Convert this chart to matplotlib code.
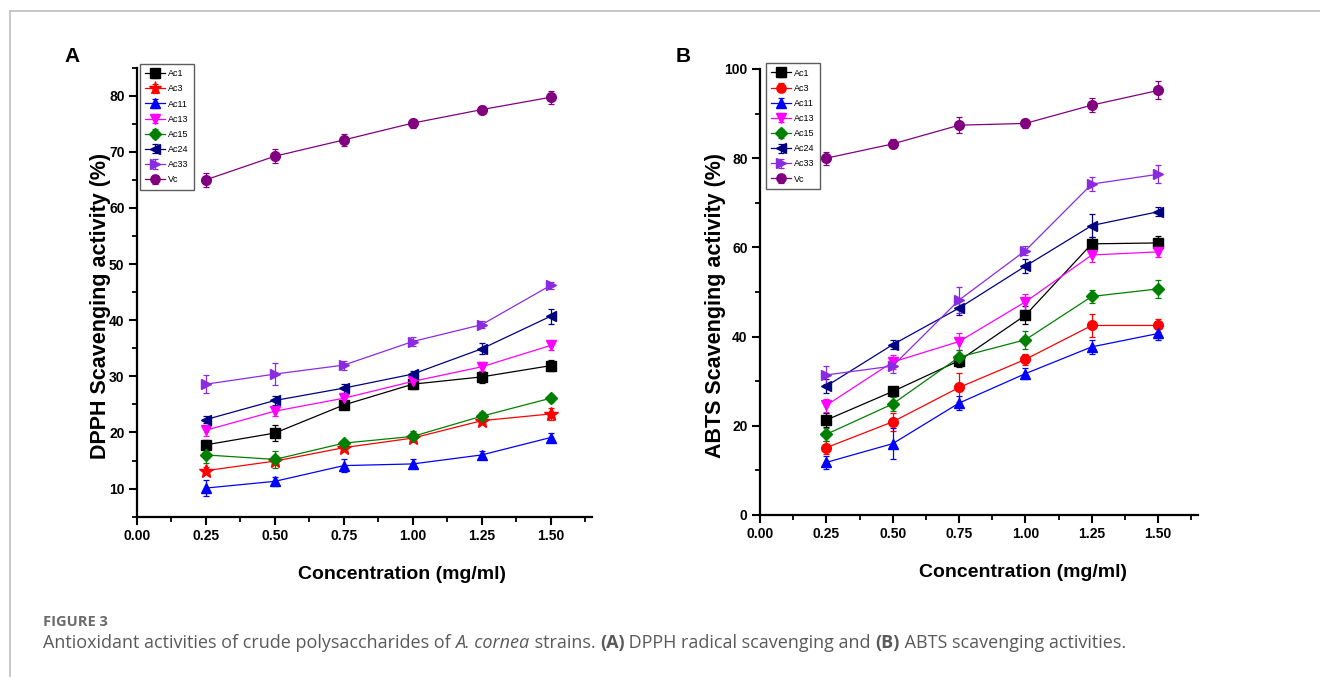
import matplotlib
matplotlib.use("Agg")
import matplotlib.pyplot as plt
from matplotlib.lines import Line2D
from matplotlib.ticker import MultipleLocator, FormatStrFormatter

plt.rcParams['font.family'] = ['Liberation Sans', 'DejaVu Sans']

conc = [0.25, 0.50, 0.75, 1.00, 1.25, 1.50]
strains = ['Ac1', 'Ac3', 'Ac11', 'Ac13', 'Ac15', 'Ac24', 'Ac33', 'Vc']
colors = ['#000000', '#ff0000', '#0000ff', '#ff00ff', '#008000', '#000080', '#8a2be2', '#800080']
markers_a = ['s', '*', '^', 'v', 'D', '<', '>', 'o']
markers_b = ['s', 'o', '^', 'v', 'D', '<', '>', 'o']

# Panel A: DPPH scavenging activity (%)
dpph_ac1 = [17.8, 19.9, 24.9, 28.6, 29.9, 31.9]
dpph_ac3 = [13.2, 14.9, 17.3, 19.0, 22.1, 23.3]
dpph_ac11 = [10.1, 11.3, 14.1, 14.4, 16.0, 19.1]
dpph_ac13 = [20.4, 23.8, 26.1, 29.1, 31.7, 35.5]
dpph_ac15 = [16.0, 15.2, 18.1, 19.3, 22.9, 26.1]
dpph_ac24 = [22.3, 25.7, 27.9, 30.4, 34.9, 40.7]
dpph_ac33 = [28.6, 30.4, 32.0, 36.2, 39.2, 46.2]
dpph_vc = [65.0, 69.2, 72.1, 75.1, 77.5, 79.7]
dpph_err_ac1 = [0.8, 1.5, 0.8, 0.8, 1.0, 1.0]
dpph_err_ac3 = [0.6, 0.6, 0.6, 0.6, 0.6, 1.0]
dpph_err_ac11 = [1.5, 0.8, 1.2, 0.8, 0.7, 0.8]
dpph_err_ac13 = [1.0, 0.9, 0.8, 0.8, 0.8, 0.8]
dpph_err_ac15 = [1.5, 1.5, 0.6, 1.0, 0.8, 0.6]
dpph_err_ac24 = [0.7, 0.8, 0.8, 0.5, 1.0, 1.3]
dpph_err_ac33 = [1.6, 2.0, 0.8, 0.8, 0.6, 0.6]
dpph_err_vc = [1.2, 1.2, 1.0, 0.8, 0.7, 1.2]

# Panel B: ABTS scavenging activity (%)
abts_ac1 = [21.3, 27.7, 34.6, 44.8, 60.8, 61.0]
abts_ac3 = [15.1, 20.9, 28.6, 34.9, 42.5, 42.5]
abts_ac11 = [11.8, 16.0, 25.1, 31.7, 37.7, 40.7]
abts_ac13 = [24.6, 34.3, 38.9, 47.8, 58.3, 59.0]
abts_ac15 = [18.1, 24.9, 35.4, 39.3, 49.0, 50.7]
abts_ac24 = [28.9, 38.2, 46.4, 55.8, 64.9, 68.0]
abts_ac33 = [31.4, 33.4, 48.2, 59.3, 74.2, 76.4]
abts_vc = [80.0, 83.2, 87.4, 87.8, 91.9, 95.2]
abts_err_ac1 = [1.5, 1.0, 1.5, 2.0, 1.5, 1.5]
abts_err_ac3 = [1.5, 2.0, 3.3, 1.2, 2.5, 1.5]
abts_err_ac11 = [1.5, 3.5, 1.5, 1.2, 1.5, 1.5]
abts_err_ac13 = [1.5, 1.5, 1.8, 1.8, 1.5, 1.2]
abts_err_ac15 = [1.5, 1.5, 1.5, 2.0, 1.5, 2.0]
abts_err_ac24 = [1.5, 1.0, 1.5, 1.5, 2.5, 1.0]
abts_err_ac33 = [2.0, 1.5, 3.0, 1.0, 1.5, 2.0]
abts_err_vc = [1.5, 1.0, 1.8, 1.0, 1.5, 2.0]

x_ticks = [0.00, 0.25, 0.50, 0.75, 1.00, 1.25, 1.50]

dpph_vals = [dpph_ac1, dpph_ac3, dpph_ac11, dpph_ac13, dpph_ac15, dpph_ac24, dpph_ac33, dpph_vc]
dpph_errs = [dpph_err_ac1, dpph_err_ac3, dpph_err_ac11, dpph_err_ac13, dpph_err_ac15, dpph_err_ac24, dpph_err_ac33, dpph_err_vc]
abts_vals = [abts_ac1, abts_ac3, abts_ac11, abts_ac13, abts_ac15, abts_ac24, abts_ac33, abts_vc]
abts_errs = [abts_err_ac1, abts_err_ac3, abts_err_ac11, abts_err_ac13, abts_err_ac15, abts_err_ac24, abts_err_ac33, abts_err_vc]

W, H = 1320, 677
fig = plt.figure(figsize=(W / 100, H / 100), dpi=100)

def px_axes(left, right, top, bottom):
    return fig.add_axes([left / W, 1 - bottom / H, (right - left) / W, (bottom - top) / H])

axA = px_axes(137, 592, 67.5, 516.7)
axB = px_axes(760, 1198, 69, 515)

def draw(ax, vals, errs, markers, ylim, ymaj, ymin, ylabel, leg_anchor, xlab_x, ylab_x):
    handles = []
    for name, col, mk, v, e in zip(strains, colors, markers, vals, errs):
        ms = 10 if mk == '*' else 7
        if mk == 'D':
            ms = 6.5
        c = ax.errorbar(conc, v, yerr=e, color=col, marker=mk, markersize=ms,
                        linewidth=0.9, elinewidth=0.9, capsize=2.5, capthick=0.9,
                        markeredgecolor=col, label=name, clip_on=False)
        handles.append(c)
    ax.set_xlim(0, 1.65)
    ax.set_ylim(*ylim)
    ax.set_xticks(x_ticks)
    ax.xaxis.set_major_formatter(FormatStrFormatter('%.2f'))
    ax.xaxis.set_minor_locator(MultipleLocator(0.125))
    ax.yaxis.set_major_locator(MultipleLocator(ymaj))
    ax.yaxis.set_minor_locator(MultipleLocator(ymin))
    for s in ['top', 'right']:
        ax.spines[s].set_visible(False)
    for s in ['left', 'bottom']:
        ax.spines[s].set_linewidth(1.6)
    ax.tick_params(which='major', direction='out', length=6, width=1.5, labelsize=10, pad=3)
    ax.tick_params(which='minor', direction='out', length=3.5, width=1.3)
    for lab in ax.get_xticklabels() + ax.get_yticklabels():
        lab.set_fontweight('bold')
    ax.set_xlabel('Concentration (mg/ml)', fontsize=14, fontweight='bold')
    ax.xaxis.set_label_coords(xlab_x, -0.11)
    ax.set_ylabel(ylabel, fontsize=15.5, fontweight='bold')
    ax.yaxis.set_label_coords(ylab_x, 0.47)
    leg = ax.legend(handles=handles, loc='upper left', bbox_to_anchor=leg_anchor,
                    borderaxespad=0, fontsize=6.5, frameon=True, fancybox=False,
                    edgecolor='#333333', handlelength=2.2, handletextpad=0.3,
                    labelspacing=0.68, borderpad=0.6, markerscale=0.95)
    leg.get_frame().set_linewidth(1.0)
    leg.set_zorder(1)
    return ax

draw(axA, dpph_vals, dpph_errs, markers_a, (5, 85), 10, 5,
     'DPPH Scavenging activity (%)', (0.006, 1.008), 0.582, -0.057)
draw(axB, abts_vals, abts_errs, markers_b, (0, 100), 20, 10,
     'ABTS Scavenging activity (%)', (0.0137, 1.013), 0.60, -0.078)

fig.text(72 / W, 1 - 57 / H, 'A', fontsize=15, fontweight='bold', ha='center', va='center')
fig.text(683 / W, 1 - 57 / H, 'B', fontsize=15, fontweight='bold', ha='center', va='center')

# page frame lines
fig.add_artist(Line2D([9.5 / W, 1], [1 - 11 / H, 1 - 11 / H], transform=fig.transFigure,
                      color='#bdbdbd', lw=1.2))
fig.add_artist(Line2D([9.5 / W, 9.5 / W], [0, 1 - 11 / H], transform=fig.transFigure,
                      color='#bdbdbd', lw=1.2))

# caption
cap_font = ['Open Sans', 'DejaVu Sans']
fig.text(43 / W, 1 - 622 / H, 'FIGURE 3', fontsize=10.5, fontweight='bold',
         color='#6b6b6b', family=cap_font, va='center', ha='left')

pieces = [
    ('Antioxidant activities of crude polysaccharides of ', 'normal', 'normal'),
    ('A. cornea', 'normal', 'italic'),
    (' strains. ', 'normal', 'normal'),
    ('(A)', 'bold', 'normal'),
    (' DPPH radical scavenging and ', 'normal', 'normal'),
    ('(B)', 'bold', 'normal'),
    (' ABTS scavenging activities.', 'normal', 'normal'),
]
renderer = fig.canvas.get_renderer()
xpos = 43
for txt, wt, st in pieces:
    t = fig.text(xpos / W, 1 - 643 / H, txt, fontsize=13, fontweight=wt, fontstyle=st,
                 color='#5a5a5a', family=cap_font, va='center', ha='left')
    bb = t.get_window_extent(renderer=renderer)
    xpos += bb.width

fig.savefig('out.png', dpi=100)
